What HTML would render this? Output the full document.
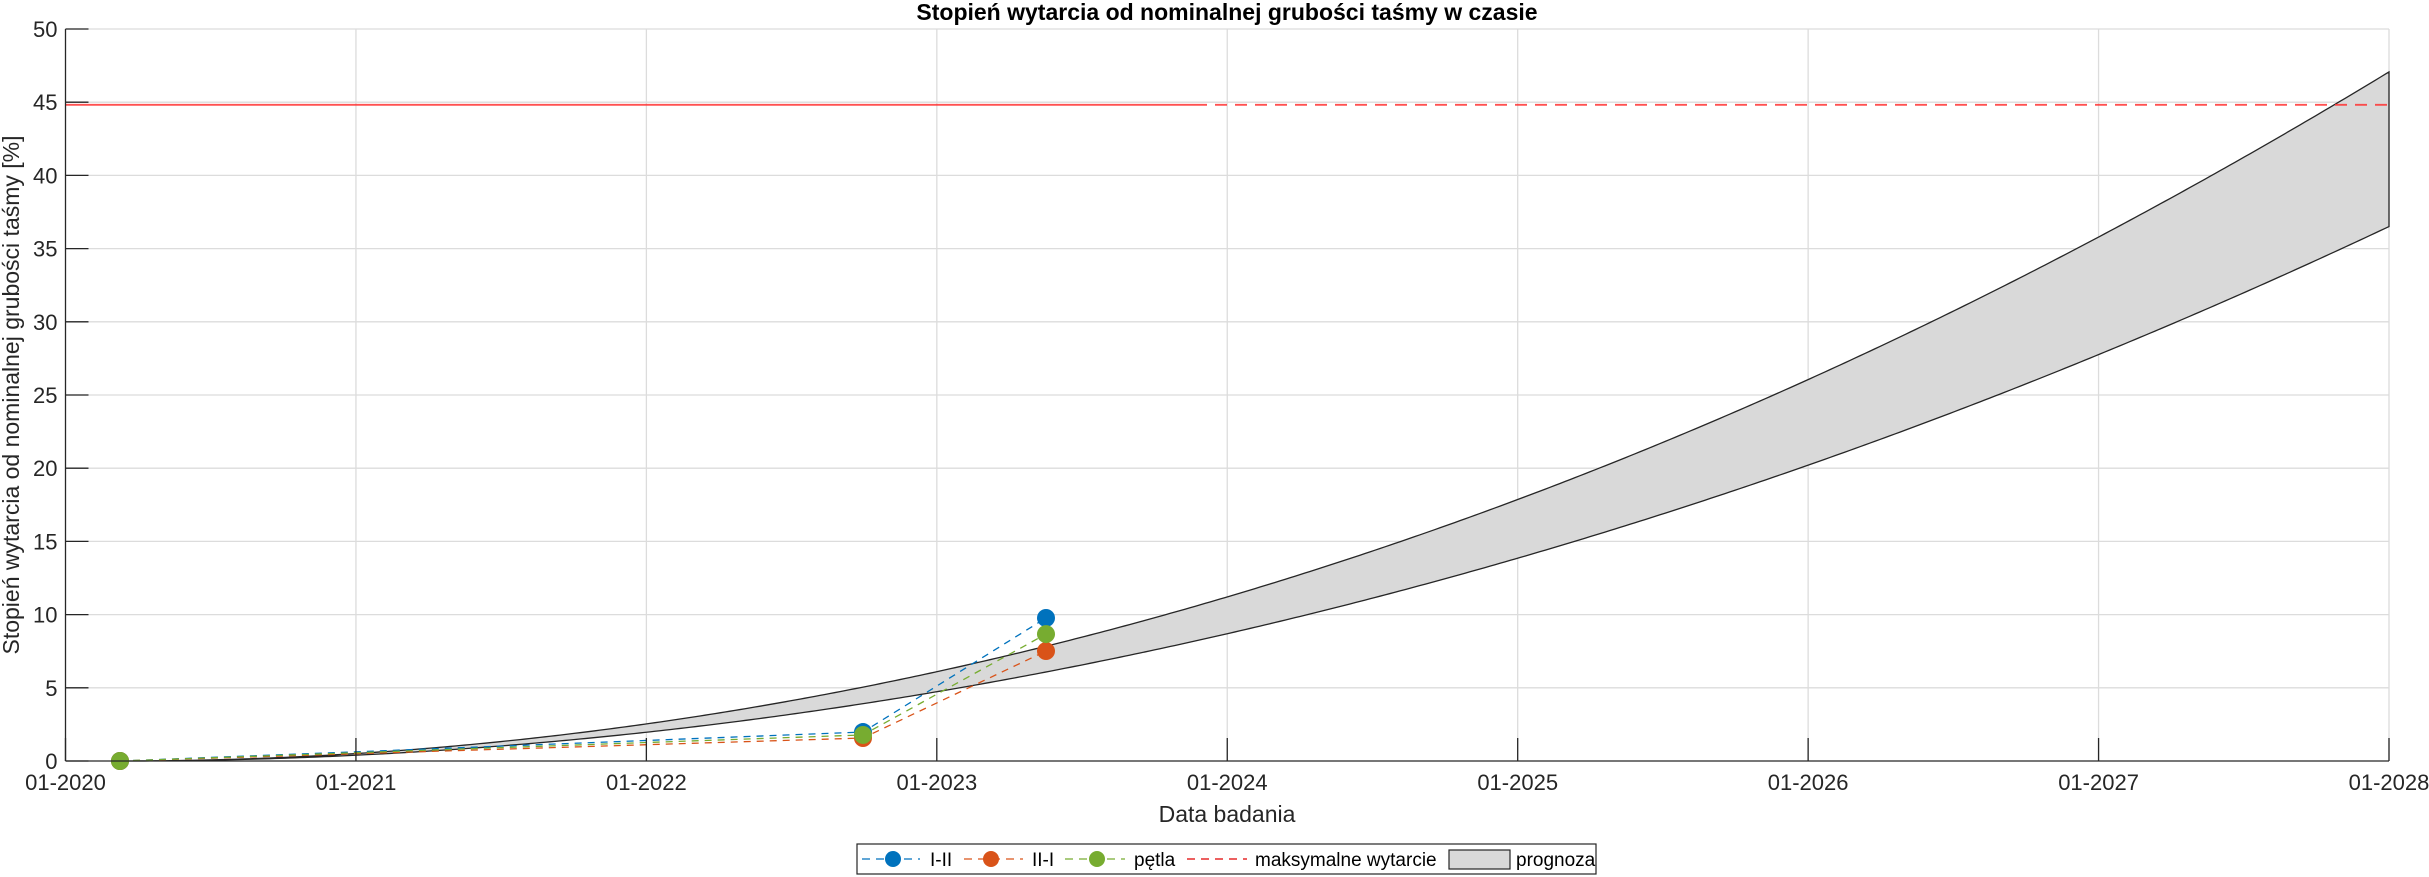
<!DOCTYPE html>
<html><head><meta charset="utf-8"><style>
html,body{margin:0;padding:0;background:#fff;}
svg{display:block;font-family:"Liberation Sans",Arial,sans-serif;}
</style></head><body>
<svg id="s" width="2429" height="877" xmlns="http://www.w3.org/2000/svg">
<rect width="2429" height="877" fill="#fff"/>
<g id="grid" stroke="#dcdcdc" stroke-width="1.3" fill="none"></g>
<path id="band" fill="#d9d9d9" stroke="#262626" stroke-width="1.3"/>
<line x1="65.5" y1="104.8" x2="1195" y2="104.8" stroke="#ff3333" stroke-width="1.8" opacity="0.85"/>
<line x1="1195" y1="104.8" x2="2389" y2="104.8" stroke="#ff3333" stroke-width="1.8" stroke-dasharray="12,8" opacity="0.85"/>
<g id="series"></g>
<g id="axes" stroke="#262626" stroke-width="1.3" fill="none"></g>
<g id="labels" fill="#262626" font-size="22"></g>
<text x="1227" y="20" text-anchor="middle" font-size="23" font-weight="bold" fill="#000">Stopień wytarcia od nominalnej grubości taśmy w czasie</text>
<text x="1227" y="822" text-anchor="middle" font-size="23" fill="#262626">Data badania</text>
<text transform="translate(19,395) rotate(-90)" text-anchor="middle" font-size="23" fill="#262626">Stopień wytarcia od nominalnej grubości taśmy [%]</text>
<g id="legend">
<rect x="857" y="844" width="739" height="30" fill="#fff" stroke="#262626" stroke-width="1.2"/>
<line x1="862" y1="859" x2="920" y2="859" stroke="#0072bd" stroke-width="1.3" stroke-dasharray="8,6"/>
<circle cx="893" cy="859" r="8" fill="#0072bd"/>
<text x="930" y="866" font-size="19" fill="#000">I-II</text>
<line x1="964" y1="859" x2="1023" y2="859" stroke="#d95319" stroke-width="1.3" stroke-dasharray="8,6"/>
<circle cx="991" cy="859" r="8" fill="#d95319"/>
<text x="1032" y="866" font-size="19" fill="#000">II-I</text>
<line x1="1065" y1="859" x2="1125" y2="859" stroke="#77ac30" stroke-width="1.3" stroke-dasharray="8,6"/>
<circle cx="1097" cy="859" r="8" fill="#77ac30"/>
<text x="1134" y="866" font-size="19" fill="#000">pętla</text>
<line x1="1187" y1="859" x2="1247" y2="859" stroke="#e00000" stroke-width="1.3" stroke-dasharray="8,6"/>
<text x="1255" y="866" font-size="19" fill="#000">maksymalne wytarcie</text>
<rect x="1449" y="850" width="61" height="19" fill="#d9d9d9" stroke="#262626" stroke-width="1.2"/>
<text x="1516" y="866" font-size="19" fill="#000">prognoza</text>
</g>
</svg>
<script>
var NS="http://www.w3.org/2000/svg";
function el(p,t,a,txt){var e=document.createElementNS(NS,t);for(var k in a)e.setAttribute(k,a[k]);if(txt!=null)e.textContent=txt;p.appendChild(e);return e;}
var L=65.5,R=2389,T=29,B=761;
function X(y){return L+(y-2020)*(R-L)/8;}
function Y(v){return B-v*(B-T)/50;}
var g=document.getElementById('grid'),ax=document.getElementById('axes'),lb=document.getElementById('labels');
for(var i=1;i<=8;i++){var x=X(2020+i);el(g,'line',{x1:x,y1:T,x2:x,y2:B});}
for(var v=5;v<=50;v+=5){el(g,'line',{x1:L,y1:Y(v),x2:R,y2:Y(v)});}
el(ax,'line',{x1:L,y1:T,x2:L,y2:B});el(ax,'line',{x1:L,y1:B,x2:R,y2:B});
for(var v=0;v<=50;v+=5){el(ax,'line',{x1:L,y1:Y(v),x2:L+23,y2:Y(v)});el(lb,'text',{x:L-8,y:Y(v)+8,'text-anchor':'end'},String(v));}
for(var i=0;i<=8;i++){var x=X(2020+i);el(ax,'line',{x1:x,y1:B,x2:x,y2:B-23});el(lb,'text',{x:x,y:B+29,'text-anchor':'middle'},'01-'+(2020+i));}
var x0=120,k=290.4,up=[],lo=[];
for(var x=x0;x<=R;x+=5){var t=(x-x0)/k;up.push([x,Y(0.771*t*t)]);lo.push([x,Y(0.598*t*t)]);}
var t=(R-x0)/k;up.push([R,Y(0.771*t*t)]);lo.push([R,Y(0.598*t*t)]);
var d='M'+up.map(function(p){return p[0]+','+p[1]}).join(' L');
d+=' L'+lo.reverse().map(function(p){return p[0]+','+p[1]}).join(' L')+' Z';
document.getElementById('band').setAttribute('d',d);
var S=document.getElementById('series');
var xs=[120,863,1046];
var ser=[['#0072bd',[0,1.98,9.77]],['#d95319',[0,1.57,7.51]],['#77ac30',[0,1.78,8.67]]];
ser.forEach(function(s){el(S,'polyline',{points:xs.map(function(x,i){return x+','+Y(s[1][i])}).join(' '),fill:'none',stroke:s[0],'stroke-width':1.3,'stroke-dasharray':'7,6'});});
ser.forEach(function(s){xs.forEach(function(x,i){el(S,'circle',{cx:x,cy:Y(s[1][i]),r:9,fill:s[0]});});});
</script>
</body></html>
